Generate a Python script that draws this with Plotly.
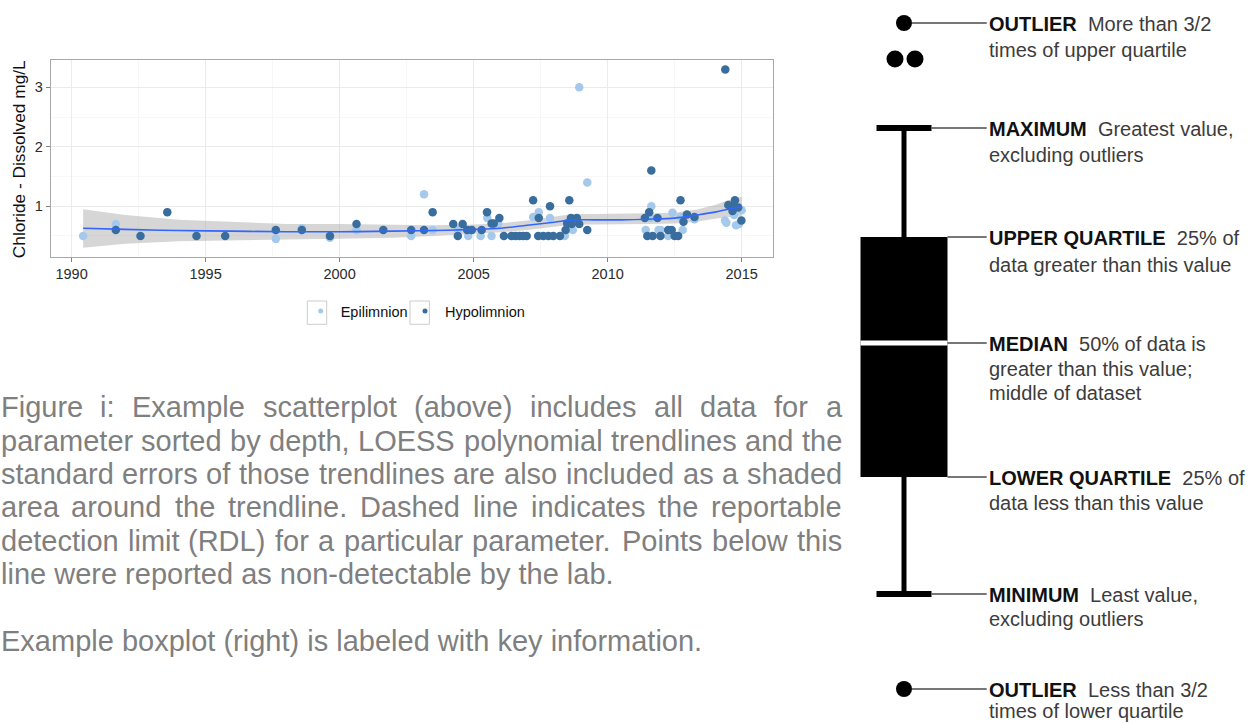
import plotly.graph_objects as go

W, H = 1260, 723
FONT = "Liberation Sans, Arial, sans-serif"

# ---------------- data ----------------
epi_year = [1990.43, 1991.65, 1997.62, 1998.59, 1999.64, 2000.63, 2002.67, 2003.15, 2003.47,
            2004.42, 2004.80, 2005.26, 2005.51, 2005.67, 2005.92, 2007.22, 2007.43, 2007.85,
            2008.40, 2008.47, 2008.70, 2008.94, 2009.24, 2011.42, 2011.60, 2011.63, 2011.90,
            2011.98, 2012.26, 2012.42, 2012.72, 2012.80, 2013.24, 2014.38, 2014.43, 2014.72,
            2014.79, 2014.90, 2015.00]
epi_val = [0.50, 0.70, 0.45, 0.63, 0.47, 0.60, 0.50, 1.20, 0.60,
           0.60, 0.50, 0.50, 0.80, 0.50, 0.71, 0.82, 0.90, 0.80,
           0.50, 0.60, 0.60, 3.00, 1.40, 0.60, 0.80, 1.00, 0.60,
           0.60, 0.50, 0.89, 0.82, 0.60, 0.78, 0.76, 0.72, 0.85,
           0.68, 0.70, 0.93]

hypo_year = [1991.65, 1992.57, 1993.57, 1994.66, 1995.73, 1997.62, 1998.59, 1999.64, 2000.63,
             2001.63, 2002.67, 2003.15, 2003.47, 2004.24, 2004.41, 2004.59, 2004.76, 2004.93,
             2005.30, 2005.50, 2005.67, 2005.75, 2005.96, 2006.13, 2006.41, 2006.56, 2006.71,
             2006.85, 2006.98, 2007.22, 2007.43, 2007.41, 2007.60, 2007.79, 2007.85, 2007.97,
             2008.22, 2008.43, 2008.49, 2008.57, 2008.63, 2008.66, 2008.85, 2008.94, 2009.24,
             2011.39, 2011.48, 2011.55, 2011.63, 2011.68, 2011.86, 2011.97, 2012.26, 2012.39,
             2012.50, 2012.63, 2012.72, 2012.83, 2012.96, 2013.24, 2014.39, 2014.50, 2014.62,
             2014.66, 2014.75, 2014.87, 2014.99]
hypo_val = [0.60, 0.50, 0.90, 0.50, 0.50, 0.60, 0.60, 0.50, 0.70,
            0.60, 0.60, 0.60, 0.90, 0.70, 0.50, 0.70, 0.60, 0.60,
            0.60, 0.90, 0.71, 0.71, 0.80, 0.50, 0.50, 0.50, 0.50,
            0.50, 0.50, 1.10, 0.80, 0.50, 0.50, 0.50, 1.00, 0.50,
            0.50, 0.60, 0.71, 1.10, 0.80, 0.70, 0.80, 0.70, 0.60,
            0.80, 0.50, 0.90, 1.60, 0.50, 0.80, 0.50, 0.60, 0.60,
            0.50, 0.50, 1.10, 0.74, 0.86, 0.82, 3.30, 1.02, 1.00,
            0.92, 1.10, 0.98, 0.76]

trend_year = [1990.43, 1992, 1994, 1996, 1998, 2000, 2002, 2003.5, 2005, 2006, 2007, 2008,
              2008.7, 2009.5, 2010.5, 2011.5, 2012.5, 2013.3, 2014, 2014.5, 2015.0]
trend_fit = [0.63, 0.61, 0.59, 0.58, 0.57, 0.57, 0.58, 0.59, 0.61, 0.63, 0.68, 0.73,
             0.77, 0.77, 0.77, 0.78, 0.80, 0.85, 0.90, 0.95, 0.99]
trend_lo = [0.30, 0.37, 0.41, 0.43, 0.44, 0.45, 0.47, 0.50, 0.53, 0.56, 0.60, 0.65,
            0.69, 0.69, 0.69, 0.70, 0.71, 0.74, 0.79, 0.82, 0.83]
trend_hi = [0.95, 0.85, 0.77, 0.73, 0.70, 0.70, 0.69, 0.68, 0.69, 0.71, 0.76, 0.82,
            0.87, 0.87, 0.87, 0.88, 0.89, 0.94, 1.02, 1.10, 1.16]

series_names = ["Epilimnion", "Hypolimnion"]
series_colors = ["#a4c9ea", "#396d9d"]

x_ticks = [1990, 1995, 2000, 2005, 2010, 2015]
y_ticks = [1, 2, 3]
y_title = "Chloride - Dissolved mg/L"

caption_lines = [
    "Figure i: Example scatterplot (above) includes all data for a",
    "parameter sorted by depth, LOESS polynomial trendlines and the",
    "standard errors of those trendlines are also included as a shaded",
    "area around the trendline. Dashed line indicates the reportable",
    "detection limit (RDL) for a particular parameter. Points below this",
    "line were reported as non-detectable by the lab.",
    "",
    "Example boxplot (right) is labeled with key information.",
]
caption_justified = [True, True, True, True, True, False, False, False]

# schematic boxplot levels (illustrative units)
box_outlier_hi = 70.0
box_outliers_extra = [66.4, 66.4]
box_max = 59.5
box_q3 = 48.6
box_median = 38.0
box_q1 = 24.6
box_min = 12.9
box_outlier_lo = 3.4

box_label_bold = ["OUTLIER", "MAXIMUM", "UPPER QUARTILE", "MEDIAN", "LOWER QUARTILE",
                  "MINIMUM", "OUTLIER"]
box_label_text = [
    ["More than 3/2", "times of upper quartile"],
    ["Greatest value,", "excluding outliers"],
    ["25% of", "data greater than this value"],
    ["50% of data is", "greater than this value;", "middle of dataset"],
    ["25% of", "data less than this value"],
    ["Least value,", "excluding outliers"],
    ["Less than 3/2", "times of lower quartile"],
]

# ---------------- helpers ----------------
ARIAL = {' ': 278, 'a': 556, 'b': 556, 'c': 500, 'd': 556, 'e': 556, 'f': 278, 'g': 556,
         'h': 556, 'i': 222, 'j': 222, 'k': 500, 'l': 222, 'm': 833, 'n': 556, 'o': 556,
         'p': 556, 'q': 556, 'r': 333, 's': 500, 't': 278, 'u': 556, 'v': 500, 'w': 722,
         'x': 500, 'y': 500, 'z': 500, 'A': 667, 'B': 667, 'C': 722, 'D': 722, 'E': 667,
         'F': 611, 'G': 778, 'H': 722, 'I': 278, 'J': 500, 'K': 667, 'L': 556, 'M': 833,
         'N': 722, 'O': 778, 'P': 667, 'Q': 778, 'R': 722, 'S': 667, 'T': 611, 'U': 722,
         'V': 667, 'W': 944, 'X': 667, 'Y': 667, 'Z': 611, '(': 333, ')': 333, ':': 278,
         '.': 278, ',': 278, ';': 278, '-': 333, '/': 278, '%': 889}


def text_w(s, fs):
    return sum(ARIAL.get(c, 556) for c in s) * fs / 1000.0


def px(x):
    return x / W


def py(y):
    return 1 - y / H


# ---------------- figure ----------------
fig = go.Figure()

# LOESS ribbon
fig.add_trace(go.Scatter(x=trend_year, y=trend_lo, mode="lines", line=dict(width=0),
                         hoverinfo="skip", showlegend=False, xaxis="x", yaxis="y"))
fig.add_trace(go.Scatter(x=trend_year, y=trend_hi, mode="lines", line=dict(width=0),
                         fill="tonexty", fillcolor="rgba(153,153,153,0.4)",
                         hoverinfo="skip", showlegend=False, xaxis="x", yaxis="y"))

# points
for yrs, vals, name, col in [(epi_year, epi_val, series_names[0], series_colors[0]),
                             (hypo_year, hypo_val, series_names[1], series_colors[1])]:
    fig.add_trace(go.Scatter(x=yrs, y=vals, mode="markers", name=name,
                             marker=dict(color=col, size=8.5, opacity=1, line=dict(width=0)),
                             showlegend=False, xaxis="x", yaxis="y"))

# trend line
fig.add_trace(go.Scatter(x=trend_year, y=trend_fit, mode="lines",
                         line=dict(color="#3366FF", width=1.6, shape="spline"),
                         showlegend=False, hoverinfo="skip", xaxis="x", yaxis="y"))

# legend entries (one legend per key so each sits exactly where the reference has it)
for name, col, lg in zip(series_names, series_colors, ["legend", "legend2"]):
    fig.add_trace(go.Scatter(x=[None], y=[None], mode="markers", name=name,
                             marker=dict(color=col, size=5, opacity=1), showlegend=True,
                             legend=lg, xaxis="x", yaxis="y"))

annotations = []
shapes = []

# y axis title
annotations.append(dict(text=y_title, x=px(19), y=py(159.2), xref="paper", yref="paper",
                        xanchor="center", yanchor="middle", textangle=-90, showarrow=False,
                        font=dict(family=FONT, size=17.3, color="#111111")))

# legend key boxes
for cx in [317.0, 419.7]:
    shapes.append(dict(type="rect", xref="paper", yref="paper",
                       x0=px(cx - 9.7), x1=px(cx + 9.7), y0=py(324.3), y1=py(301),
                       line=dict(color="#cccccc", width=1), fillcolor="rgba(0,0,0,0)",
                       layer="below"))

# caption (justified text)
CAP_FS = 29
CAP_X0, CAP_X1 = 0.5, 842.0
for i, line in enumerate(caption_lines):
    if not line:
        continue
    baseline = 417.3 + i * 33.33
    yc = baseline - 0.3465 * CAP_FS
    words = line.split(" ")
    if caption_justified[i] and len(words) > 1:
        widths = [text_w(w_, CAP_FS) for w_ in words]
        gap = (CAP_X1 - CAP_X0 - sum(widths)) / (len(words) - 1)
        xpos = CAP_X0
        for w_, wd in zip(words, widths):
            annotations.append(dict(text=w_, x=px(xpos), y=py(yc), xref="paper", yref="paper",
                                    xanchor="left", yanchor="middle", showarrow=False,
                                    borderpad=0, borderwidth=0,
                                    font=dict(family=FONT, size=CAP_FS, color="#7f7f7f")))
            xpos += wd + gap
    else:
        annotations.append(dict(text=line, x=px(CAP_X0), y=py(yc), xref="paper", yref="paper",
                                xanchor="left", yanchor="middle", showarrow=False,
                                borderpad=0, borderwidth=0,
                                font=dict(family=FONT, size=CAP_FS, color="#7f7f7f")))

# ---------------- schematic boxplot (x2/y2: 10 px per unit) ----------------
BX = 90.4          # box centre
BHW = 4.35         # box half width
CHW = 2.75         # cap half width
LINK_END = 98.67
LABEL_X = 98.85

# box body
shapes.append(dict(type="rect", xref="x2", yref="y2", x0=BX - BHW, x1=BX + BHW,
                   y0=box_q1, y1=box_q3, fillcolor="black", line=dict(width=0)))
# median
shapes.append(dict(type="line", xref="x2", yref="y2", x0=BX - BHW, x1=BX + BHW,
                   y0=box_median, y1=box_median, line=dict(color="white", width=5)))
# whiskers
for a, b in [(box_q3, box_max), (box_q1, box_min)]:
    shapes.append(dict(type="line", xref="x2", yref="y2", x0=BX, x1=BX, y0=a, y1=b,
                       line=dict(color="black", width=5)))
for lv in [box_max, box_min]:
    shapes.append(dict(type="line", xref="x2", yref="y2", x0=BX - CHW, x1=BX + CHW,
                       y0=lv, y1=lv, line=dict(color="black", width=6)))
# connectors
links = [(BX + 0.8, box_outlier_hi), (BX + CHW, box_max), (BX + BHW, box_q3),
         (BX + BHW, box_median), (BX + BHW, box_q1), (BX + CHW, box_min),
         (BX + 0.8, box_outlier_lo)]
for x0, lv in links:
    shapes.append(dict(type="line", xref="x2", yref="y2", x0=x0, x1=LINK_END, y0=lv, y1=lv,
                       line=dict(color="#4a4a4a", width=1.3)))

# outlier dots
fig.add_trace(go.Scatter(x=[BX, BX, BX - 0.9, BX + 1.1],
                         y=[box_outlier_hi, box_outlier_lo] + box_outliers_extra,
                         mode="markers",
                         marker=dict(color="#000000", size=[16, 16, 17, 17], opacity=1,
                                     line=dict(width=0)),
                         opacity=1, showlegend=False, hoverinfo="skip",
                         xaxis="x2", yaxis="y2"))

# labels (one annotation per line for exact line placement)
LBL_FS = 20
levels = [box_outlier_hi, box_max, box_q3, box_median, box_q1, box_min, box_outlier_lo]
line_steps = [25.5, 26, 26.5, 24.5, 25, 24, 20.3]
for bold, rest, lv, step in zip(box_label_bold, box_label_text, levels, line_steps):
    first_center_px = (72.3 - lv) * 10 + 1.4
    for k, r in enumerate(rest):
        if k == 0:
            txt = "<span style='color:#111111'><b>" + bold + "</b></span>\u00a0 " + r
        else:
            txt = r
        cy = first_center_px + k * step
        annotations.append(dict(text=txt, x=LABEL_X, y=72.3 - cy / 10, xref="x2", yref="y2",
                                xanchor="left", yanchor="middle", align="left",
                                showarrow=False, borderpad=0, borderwidth=0,
                                font=dict(family=FONT, size=LBL_FS, color="#3c3c3c")))

legend_common = dict(orientation="h", xanchor="left", y=py(311), yanchor="middle",
                     traceorder="normal", font=dict(family=FONT, size=14.5, color="#111111"),
                     bgcolor="rgba(0,0,0,0)", borderwidth=0,
                     itemclick=False, itemdoubleclick=False)

fig.update_layout(
    width=W, height=H,
    margin=dict(l=0, r=0, t=0, b=0),
    paper_bgcolor="white",
    plot_bgcolor="rgba(0,0,0,0)",
    font=dict(family=FONT),
    xaxis=dict(domain=[px(50.7), px(773)], range=[1989.22, 2016.17], anchor="y",
               tickvals=x_ticks, showgrid=True, gridcolor="#ebebeb", gridwidth=1,
               minor=dict(tickvals=[1992.5, 1997.5, 2002.5, 2007.5, 2012.5],
                          showgrid=True, gridcolor="#f7f7f7", ticks=""),
               showline=True, mirror=True, linecolor="#a8a8a8", linewidth=1,
               ticks="outside", ticklen=4, tickcolor="#7f7f7f", zeroline=False,
               tickfont=dict(family=FONT, size=14.5, color="#2b2b2b")),
    yaxis=dict(domain=[py(257), py(60)], range=[0.145, 3.46], anchor="x",
               tickvals=y_ticks, showgrid=True, gridcolor="#ebebeb", gridwidth=1,
               minor=dict(tickvals=[0.5, 1.5, 2.5], showgrid=True, gridcolor="#f7f7f7",
                          ticks=""),
               showline=True, mirror=True, linecolor="#a8a8a8", linewidth=1,
               ticks="outside", ticklen=4, tickcolor="#7f7f7f", zeroline=False,
               tickfont=dict(family=FONT, size=14.5, color="#2b2b2b")),
    xaxis2=dict(domain=[0, 1], range=[0, 126], anchor="y2", visible=False, fixedrange=True),
    yaxis2=dict(domain=[0, 1], range=[0, 72.3], anchor="x2", visible=False, fixedrange=True),
    legend=dict(x=px(300.7), **legend_common),
    legend2=dict(x=px(405.0), **legend_common),
    annotations=annotations,
    shapes=shapes,
    hovermode=False,
)

fig.write_html("out.html")
